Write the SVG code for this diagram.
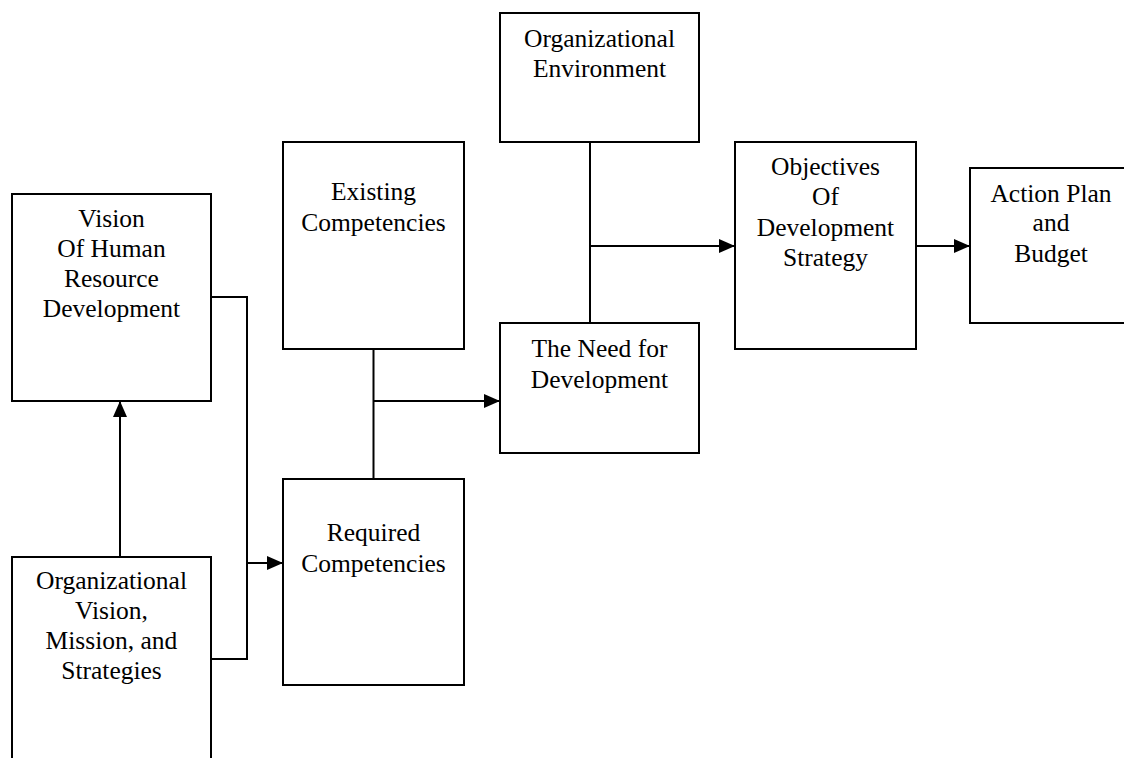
<svg xmlns="http://www.w3.org/2000/svg" width="1124" height="758" viewBox="0 0 1124 758">
<defs>
<marker id="arr" markerUnits="userSpaceOnUse" markerWidth="16" markerHeight="14" refX="16" refY="7" orient="auto">
<path d="M0,0 L16,7 L0,14 Z" fill="#000"/>
</marker>
<style>
.box{fill:#fff;stroke:#000;stroke-width:2}
.lbl{font-family:"Liberation Serif","Times New Roman",serif;font-size:25.5px;fill:#000;text-anchor:middle}
.c{fill:none;stroke:#000;stroke-width:2}
</style>
</defs>
<rect width="1124" height="758" fill="#fff"/>
<g id="vision">
<rect class="box" x="12" y="194" width="199" height="207"/>
<text class="lbl" x="111.5" y="227">Vision</text>
<text class="lbl" x="111.5" y="257">Of Human</text>
<text class="lbl" x="111.5" y="287">Resource</text>
<text class="lbl" x="111.5" y="317">Development</text>
</g>
<g id="orgvision">
<rect class="box" x="12" y="557" width="199" height="220"/>
<text class="lbl" x="111.5" y="589">Organizational</text>
<text class="lbl" x="111.5" y="619">Vision,</text>
<text class="lbl" x="111.5" y="649">Mission, and</text>
<text class="lbl" x="111.5" y="679">Strategies</text>
</g>
<g id="existing">
<rect class="box" x="283" y="142" width="181" height="207"/>
<text class="lbl" x="373.5" y="200">Existing</text>
<text class="lbl" x="373.5" y="231">Competencies</text>
</g>
<g id="required">
<rect class="box" x="283" y="479" width="181" height="206"/>
<text class="lbl" x="373.5" y="541">Required</text>
<text class="lbl" x="373.5" y="572">Competencies</text>
</g>
<g id="orgenv">
<rect class="box" x="500" y="13" width="199" height="129"/>
<text class="lbl" x="599.5" y="47">Organizational</text>
<text class="lbl" x="599.5" y="77">Environment</text>
</g>
<g id="need">
<rect class="box" x="500" y="323" width="199" height="130"/>
<text class="lbl" x="599.5" y="357">The Need for</text>
<text class="lbl" x="599.5" y="388">Development</text>
</g>
<g id="objectives">
<rect class="box" x="735" y="142" width="181" height="207"/>
<text class="lbl" x="825.5" y="175">Objectives</text>
<text class="lbl" x="825.5" y="205">Of</text>
<text class="lbl" x="825.5" y="236">Development</text>
<text class="lbl" x="825.5" y="266">Strategy</text>
</g>
<g id="action">
<rect class="box" x="970" y="168" width="162" height="155"/>
<text class="lbl" x="1051" y="202">Action Plan</text>
<text class="lbl" x="1051" y="231">and</text>
<text class="lbl" x="1051" y="262">Budget</text>
</g>
<g id="connectors">
<line class="c" x1="120" y1="557" x2="120" y2="401" marker-end="url(#arr)"/>
<polyline class="c" points="211,297 247,297 247,659 211,659"/>
<line class="c" x1="247" y1="563" x2="283" y2="563" marker-end="url(#arr)"/>
<line class="c" x1="373.5" y1="349" x2="373.5" y2="479"/>
<line class="c" x1="373.5" y1="401" x2="500" y2="401" marker-end="url(#arr)"/>
<line class="c" x1="590" y1="142" x2="590" y2="323"/>
<line class="c" x1="590" y1="246" x2="735" y2="246" marker-end="url(#arr)"/>
<line class="c" x1="916" y1="246" x2="970" y2="246" marker-end="url(#arr)"/>
</g>
</svg>
